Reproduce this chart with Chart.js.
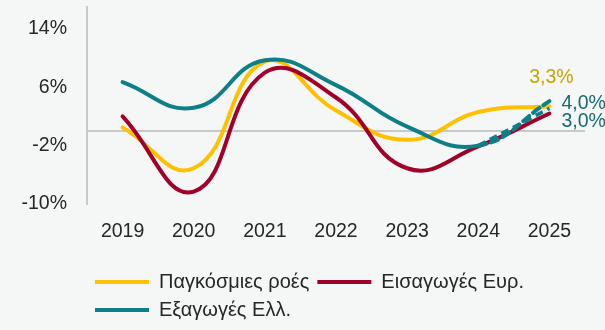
<!DOCTYPE html>
<html>
<head>
<meta charset="utf-8">
<script src="https://cdn.jsdelivr.net/npm/chart.js@4"></script>
<style>
  html, body { margin: 0; padding: 0; background: #f5f7f7; }
  #wrap { width: 605px; height: 330px; }
</style>
</head>
<body>
<div id="wrap"><canvas id="chart"></canvas></div>
<script>
const years = ["2019", "2020", "2021", "2022", "2023", "2024", "2025"];
const globalFlows = [0.5, -5.1, 9.5, 2.8, -1.2, 2.6, 3.4];
const euImports = [2.0, -8.3, 8.0, 4.6, -5.1, -2.1, 2.4];
const grExports = [6.7, 3.2, 9.7, 6.3, 0.6, -2.0, 4.1];
const grExportsAlt = [null, null, null, null, null, -2.0, 3.1];
const yTicks = [-10, -2, 0, 6, 14];
const endLabels = ["3,3%", "4,0%", "3,0%"];

const YELLOW = "#ffc000";
const RED = "#a0002a";
const TEAL = "#0e7f87";
const FONT = "'Liberation Sans', Arial, sans-serif";

// last-point labels
const endLabelPlugin = {
  id: "endLabels",
  afterDatasetsDraw(chart) {
    const ctx = chart.ctx;
    const last = years.length - 1;
    const pY = chart.getDatasetMeta(0).data[last];
    const pT = chart.getDatasetMeta(2).data[last];
    const pA = chart.getDatasetMeta(3).data[last];
    ctx.save();
    ctx.font = "19.5px " + FONT;
    ctx.textBaseline = "middle";
    ctx.textAlign = "center";
    ctx.fillStyle = "#c9a300";
    ctx.fillText(endLabels[0], pY.x + 2, pY.y - 29);
    ctx.textAlign = "left";
    ctx.fillStyle = "#176b72";
    ctx.fillText(endLabels[1], pT.x + 12, pT.y + 3);
    ctx.fillText(endLabels[2], pA.x + 12, pA.y + 13);
    ctx.restore();
  }
};

const line = (label, data, color, order) => ({
  label, data, order,
  borderColor: color,
  backgroundColor: color,
  borderWidth: 4,
  borderCapStyle: "round",
  pointRadius: 0,
  tension: 0.45,
  fill: false
});

const teal = line("Εξαγωγές Ελλ.", grExports, TEAL, 0);
teal.segment = { borderDash: c => c.p1DataIndex === years.length - 1 ? [8, 5] : undefined };
const alt = line("", grExportsAlt, TEAL, 0);
alt.borderWidth = 3.5;
alt.borderDash = [8, 5];
alt.borderCapStyle = "butt";

new Chart(document.getElementById("chart"), {
  type: "line",
  data: {
    labels: years,
    datasets: [
      line("Παγκόσμιες ροές", globalFlows, YELLOW, 2),
      line("Εισαγωγές Ευρ.", euImports, RED, 1),
      teal,
      alt
    ]
  },
  options: {
    responsive: true,
    maintainAspectRatio: false,
    animation: false,
    layout: { padding: { top: 7, right: 20, left: 0, bottom: 0 } },
    plugins: {
      tooltip: { enabled: false },
      legend: {
        position: "bottom",
        align: "start",
        fullSize: false,
        labels: {
          usePointStyle: true,
          pointStyle: "line",
          pointStyleWidth: 54,
          padding: 8,
          color: "#262626",
          font: { family: FONT, size: 20 },
          filter: item => item.text !== "",
          sort: (a, b) => a.datasetIndex - b.datasetIndex
        }
      }
    },
    scales: {
      x: {
        offset: true,
        grid: { display: false },
        border: { display: false },
        ticks: { color: "#262626", padding: 8, font: { family: FONT, size: 19.5 } },
        afterFit: s => { s.height = 60; s.paddingLeft = 0; s.paddingRight = 0; }
      },
      y: {
        min: -10,
        max: 17,
        afterBuildTicks: s => { s.ticks = yTicks.map(v => ({ value: v })); },
        afterFit: s => { s.width = 87; s.paddingTop = 0; s.paddingBottom = 0; },
        grid: {
          drawTicks: false,
          lineWidth: 2,
          color: c => c.tick && c.tick.value === 0 ? "#c9c9c9" : "rgba(0,0,0,0)"
        },
        border: { display: true, color: "#c9c9c9", width: 2 },
        ticks: {
          color: "#262626",
          padding: 20,
          font: { family: FONT, size: 19.5 },
          callback: v => v === 0 ? "" : v + "%"
        }
      }
    }
  },
  plugins: [endLabelPlugin]
});
</script>
</body>
</html>
